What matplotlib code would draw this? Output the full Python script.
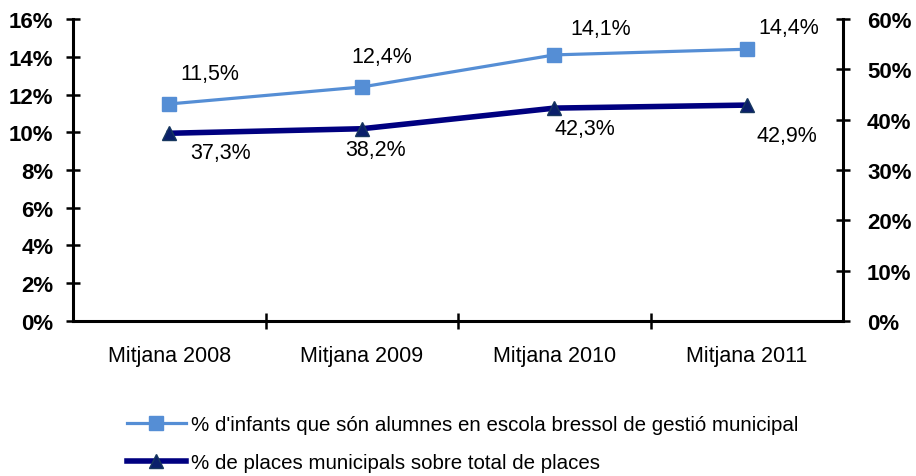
import matplotlib.pyplot as plt
from matplotlib.ticker import FuncFormatter

plt.rcParams['font.family'] = ['Liberation Sans', 'DejaVu Sans']

categories = ['Mitjana 2008', 'Mitjana 2009', 'Mitjana 2010', 'Mitjana 2011']
infants = [11.5, 12.4, 14.1, 14.4]
places = [37.3, 38.2, 42.3, 42.9]
label_infants = "% d'infants que són alumnes en escola bressol de gestió municipal"
label_places = '% de places municipals sobre total de places'

# label offsets in points, as placed in the original
off_infants = [(29, 22), (14, 22), (33, 19), (30, 16)]
off_places = [(37, -14), (10, -15), (22, -15), (29, -22)]

fig = plt.figure(figsize=(9.16, 4.77), dpi=100)
ax = fig.add_axes([0.0797, 0.325, 0.841, 0.633])
ax2 = ax.twinx()

x = range(len(categories))
l1, = ax.plot(x, infants, color='#558ED5', lw=2.3, marker='s', ms=9.5,
              mfc='#558ED5', mec='#558ED5')
l2, = ax2.plot(x, places, color='#000080', lw=4, marker='^', ms=9.5,
               mfc='#0A1F6B', mec='#17375E')

for i, v in enumerate(infants):
    ax.annotate(f'{v:.1f}%'.replace('.', ','), (i, v), xytext=off_infants[i],
                textcoords='offset points', ha='center', va='center', fontsize=15.5)
for i, v in enumerate(places):
    ax2.annotate(f'{v:.1f}%'.replace('.', ','), (i, v), xytext=off_places[i],
                 textcoords='offset points', ha='center', va='center', fontsize=15.5)

ax.set_xlim(-0.5, 3.5)
ax.set_ylim(0, 16)
ax2.set_ylim(0, 60)
ax.set_yticks(range(0, 17, 2))
ax2.set_yticks(range(0, 61, 10))
pct = FuncFormatter(lambda v, p: f'{v:.0f}%')
ax.yaxis.set_major_formatter(pct)
ax2.yaxis.set_major_formatter(pct)

ax.set_xticks(list(x))
ax.set_xticklabels(categories, fontsize=15.5)
ax.set_xticks([0.5, 1.5, 2.5], minor=True)
ax.tick_params(axis='x', which='major', length=0, pad=17)
ax.tick_params(axis='x', which='minor', direction='inout', length=12, width=1.8)
ax.tick_params(axis='y', direction='inout', length=10, width=1.8, labelsize=16, pad=9)
ax2.tick_params(axis='y', direction='inout', length=10, width=1.8, labelsize=16, pad=12)
for lab in ax.get_yticklabels() + ax2.get_yticklabels():
    lab.set_fontweight('bold')

for a in (ax, ax2):
    a.spines['top'].set_visible(False)
    for s in ('left', 'right', 'bottom'):
        a.spines[s].set_linewidth(2.2)
ax.spines['right'].set_visible(False)
ax2.spines['left'].set_visible(False)
ax2.spines['bottom'].set_visible(False)

fig.legend([l1, l2], [label_infants, label_places], loc='center',
           bbox_to_anchor=(0.505, 0.068), frameon=False, fontsize=14.8,
           handlelength=2.9, labelspacing=0.95, handletextpad=0.25,
           borderpad=0.2)

fig.savefig('out.png', dpi=100)
